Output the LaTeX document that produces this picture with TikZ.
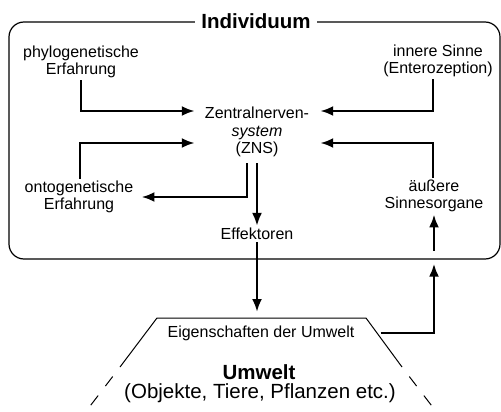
\documentclass[tikz,border=0pt]{standalone}
\usepackage{fontspec}
\setmainfont{Liberation Sans}
\usetikzlibrary{arrows.meta}

\begin{document}
\begin{tikzpicture}[x=1pt, y=-1pt,
  txt/.style = {align=center, inner sep=2pt, font=\fontsize{16}{17.5}\selectfont},
  big/.style = {inner sep=2pt, font=\fontsize{20.5}{22}\selectfont},
  arr/.style = {line width=2.6pt, -{Latex[length=13pt,width=10pt]}}]
\useasboundingbox (0,0) rectangle (501,412);

% Individuum
\node[draw, rounded corners=15pt, line width=1.2pt, minimum width=491pt, minimum height=237pt] (indiv) at (254.5,140.5) {};
\node[fill=white, inner xsep=6pt, inner ysep=1pt, font=\bfseries\fontsize{20.5}{22}\selectfont] (title) at (256,21) {Individuum};

\node[txt] (phylo) at (81,62) {phylogenetische\\Erfahrung};
\node[txt] (inner) at (438,61) {innere Sinne\\(Enterozeption)};
\node[txt] (zns) at (257,132) {Zentralnerven-\\\textit{system}\\(ZNS)};
\node[txt] (onto) at (79,197) {ontogenetische\\Erfahrung};
\node[txt] (aeuss) at (434,196) {äußere\\Sinnesorgane};
\node[txt] (eff) at (257,234) {Effektoren};

% Umwelt
\coordinate (tl) at (157,318);
\coordinate (tr) at (366,318);
\draw[line width=1pt] (120,367) -- (tl) -- (tr) -- (402,367);
\draw[line width=1pt, dash pattern=on 12pt off 12pt, dash phase=12pt] (120,367) -- (84,414);
\draw[line width=1pt, dash pattern=on 12pt off 12pt, dash phase=12pt] (402,367) -- (438,414);
\node[txt] (eig) at (261,333) {Eigenschaften der Umwelt};
\node[big, font=\bfseries\fontsize{20.5}{22}\selectfont] (umw) at (259,372) {Umwelt};
\node[big] (obj) at (260,393) {(Objekte, Tiere, Pflanzen etc.)};

\draw[arr] (phylo.south) |- ([shift={(-8,-21)}]zns.west);
\draw[arr] ([xshift=-5pt]inner.south) |- ([shift={(9,-21)}]zns.east);
\draw[arr] ([xshift=1pt]onto.north) |- ([shift={(-8,11)}]zns.west);
\draw[arr] ([xshift=-1pt]aeuss.north) |- ([shift={(9,11)}]zns.east);
\draw[arr, shorten <=4pt] ([xshift=-10pt]zns.south) |- ([xshift=6pt]onto.east);
\draw[arr, shorten <=4pt] (zns.south) -- (eff.north);
\draw[arr, shorten >=6pt] (eff.south) -- (eff.south |- tl);
\draw[arr, shorten <=24pt, shorten >=4pt] (eig.east) -| (aeuss.south |- indiv.south);
\draw[arr, shorten <=9pt] (aeuss.south |- indiv.south) -- (aeuss.south);
\end{tikzpicture}
\end{document}
